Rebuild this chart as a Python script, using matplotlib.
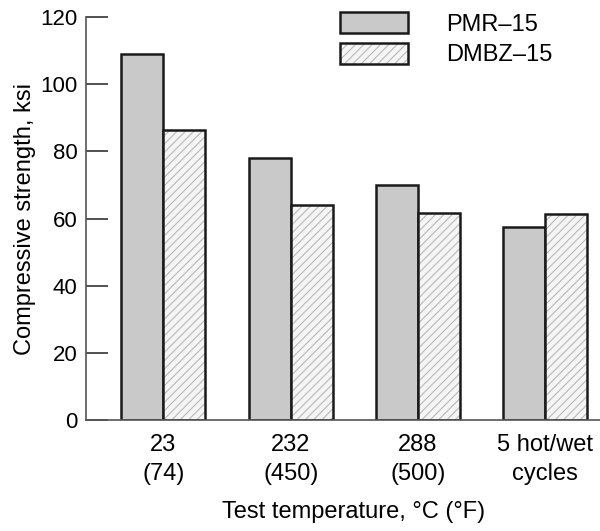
import matplotlib.pyplot as plt
import numpy as np

plt.rcParams['font.family'] = ['Liberation Sans', 'DejaVu Sans']
plt.rcParams['hatch.linewidth'] = 0.8

categories = ['23\n(74)', '232\n(450)', '288\n(500)', '5 hot/wet\ncycles']
pmr15 = [109, 78, 70, 57.6]
dmbz15 = [86.4, 64, 61.5, 61.3]

x = np.arange(len(categories))
w = 0.33

fig = plt.figure(figsize=(6, 5.31), dpi=100)
ax = fig.add_axes([0.143, 0.209, 0.857, 0.759])

b1 = ax.bar(x - w / 2, pmr15, w, color='#c9c9c9', edgecolor='#1a1a1a', linewidth=1.8)
# hatch drawn in light grey, then a black outline on top
b2h = ax.bar(x + w / 2, dmbz15, w, color='#f5f5f5', edgecolor='#b8b8b8', linewidth=0,
             hatch='////')
b2 = ax.bar(x + w / 2, dmbz15, w, fill=False, edgecolor='#1a1a1a', linewidth=1.8)

ax.set_xlim(-0.61, 3.43)
ax.set_ylim(0, 120)
ax.set_yticks(range(0, 121, 20))
ax.set_xticks(x)
ax.set_xticklabels(categories, fontsize=17, linespacing=1.4)
ax.tick_params(axis='y', direction='in', length=16, width=1.2, labelsize=16, pad=6,
               color='#333333')
ax.tick_params(axis='x', length=0, pad=10)
for s in ['top', 'right']:
    ax.spines[s].set_visible(False)
ax.spines['left'].set_color('#555555')
ax.spines['bottom'].set_color('#555555')
ax.spines['left'].set_linewidth(1.2)
ax.spines['bottom'].set_linewidth(1.2)

ax.set_ylabel('Compressive strength, ksi', fontsize=17, labelpad=3)
ax.set_xlabel('Test temperature, \u00b0C (\u00b0F)', fontsize=17, labelpad=12)
ax.xaxis.label.set_x(0.52)

fig.legend([b1[0], (b2h[0], b2[0])], ['PMR\u201315', 'DMBZ\u201315'],
           loc='upper left', bbox_to_anchor=(340 / 600, 1 - 12 / 531),
           frameon=False, fontsize=17, borderpad=0, borderaxespad=0,
           handlelength=2.9, handleheight=1.0, handletextpad=1.6, labelspacing=0.3)

fig.savefig('out.png', dpi=100)
